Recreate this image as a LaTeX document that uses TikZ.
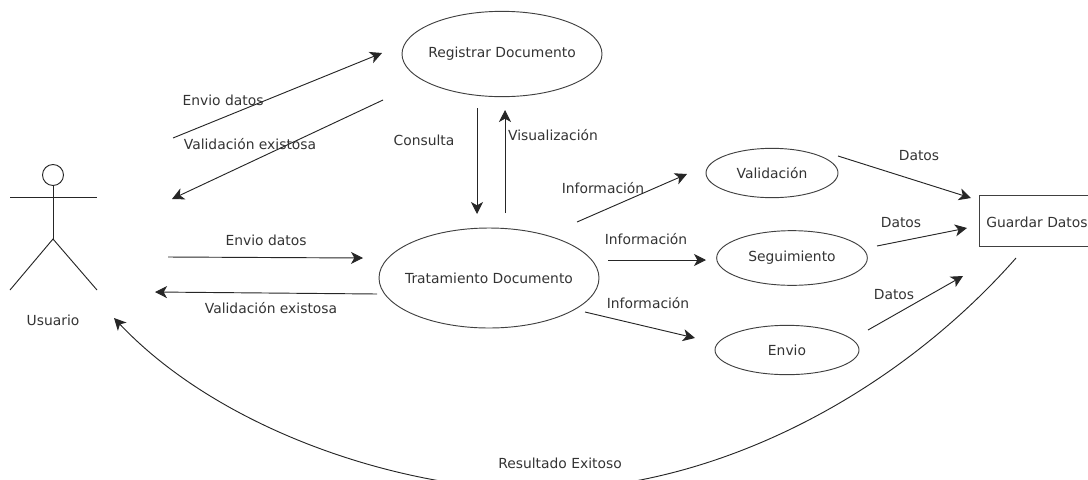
\documentclass[tikz,border=0pt]{standalone}
\usepackage{fontspec}
\setmainfont{DejaVu Sans}
\usetikzlibrary{shapes.geometric,arrows.meta}
\tikzset{
  proc/.style={draw=black!75, ellipse, inner xsep=-30pt, inner ysep=0pt, line width=0.7pt, text=black!80, font=\fontsize{10.4}{12}\selectfont},
  lbl/.style={font=\fontsize{10.4}{12}\selectfont, inner sep=0pt, text=black!80},
  flow/.style={-{Stealth[length=9pt,width=9pt,inset=2.5pt]}, line width=0.7pt, black!85}
}
\begin{document}
\begin{tikzpicture}[x=0.75pt,y=-0.75pt]
  \useasboundingbox (0,0) rectangle (1088,479);

% actor
  \coordinate (neck) at (53,186);
  \coordinate (hip) at (53,239);
  \draw[line width=0.7pt, black!85] (53,175) circle [radius=10.5];
  \draw[line width=0.7pt, black!85] (neck) -- (hip);
  \draw[line width=0.7pt, black!85] (10,197) -- (97,197);
  \draw[line width=0.7pt, black!85] (10,290) -- (hip) -- (97,290);
  \node[lbl] (usuario) at (53,320) {Usuario};

% processes
  \node[proc, minimum width=150pt, minimum height=64pt] (registrar) at (502,54) {Registrar Documento};
  \node[proc, minimum width=165pt, minimum height=75pt] (tratamiento) at (489,278) {Tratamiento Documento};
  \node[proc, minimum width=99pt, minimum height=37pt] (validacion) at (772,173) {Validación};
  \node[proc, minimum width=113pt, minimum height=41pt] (seguimiento) at (792,258) {Seguimiento};
  \node[proc, minimum width=108pt, minimum height=37pt] (envio) at (787,350) {Envio};
  \draw[line width=0.6pt, black!75] (1090,195) -- (979,195) -- (979,246) -- (1090,246);
  \node[lbl] (guardar) at (1037,222) {Guardar Datos};

% free ends of the flows
  \coordinate (a1) at (173,138);
  \coordinate (a2) at (382,53);
  \coordinate (b1) at (383,100);
  \coordinate (b2) at (172,199);
  \coordinate (c1) at (168,257);
  \coordinate (c2) at (363,258);
  \coordinate (d1) at (377,294);
  \coordinate (d2) at (155,292);
  \coordinate (m1) at (477,108);
  \coordinate (m2) at (477,214);
  \coordinate (n1) at (505,213);
  \coordinate (n2) at (505,110);
  \coordinate (e1) at (577,222);
  \coordinate (e2) at (687,174);
  \coordinate (f1) at (608,260);
  \coordinate (f2) at (706,260);
  \coordinate (g1) at (585,312);
  \coordinate (g2) at (695,338);
  \coordinate (h1) at (838,156);
  \coordinate (h2) at (971,198);
  \coordinate (i1) at (877,246);
  \coordinate (i2) at (967,228);
  \coordinate (j1) at (868,330);
  \coordinate (j2) at (963,276);
  \coordinate (k1) at (1016,258);
  \coordinate (k2) at (114,318);

% flows
  \draw[flow] (a1) -- (a2);
  \draw[flow] (b1) -- (b2);
  \draw[flow] (c1) -- (c2);
  \draw[flow] (d1) -- (d2);
  \draw[flow] (m1) -- (m2);
  \draw[flow] (n1) -- (n2);
  \draw[flow] (e1) -- (e2);
  \draw[flow] (f1) -- (f2);
  \draw[flow] (g1) -- (g2);
  \draw[flow] (h1) -- (h2);
  \draw[flow] (i1) -- (i2);
  \draw[flow] (j1) -- (j2);
  \draw[flow] (k1) .. controls (900,390) and (720,490) .. (540,490) .. controls (400,490) and (220,430) .. (k2);

% labels
  \node[lbl] (envio1) at (223,100) {Envio datos};
  \node[lbl] (valid1) at (250,144) {Validación existosa};
  \node[lbl] (consulta) at (424,140) {Consulta};
  \node[lbl] (visual) at (553,135) {Visualización};
  \node[lbl] (info1) at (603,188) {Información};
  \node[lbl] (envio2) at (266,240) {Envio datos};
  \node[lbl] (valid2) at (271,308) {Validación existosa};
  \node[lbl] (info2) at (646,239) {Información};
  \node[lbl] (info3) at (648,303) {Información};
  \node[lbl] (datos1) at (919,156) {Datos};
  \node[lbl] (datos2) at (901,223) {Datos};
  \node[lbl] (datos3) at (894,295) {Datos};
  \node[lbl] (resultado) at (560,463) {Resultado Exitoso};
\end{tikzpicture}
\end{document}
